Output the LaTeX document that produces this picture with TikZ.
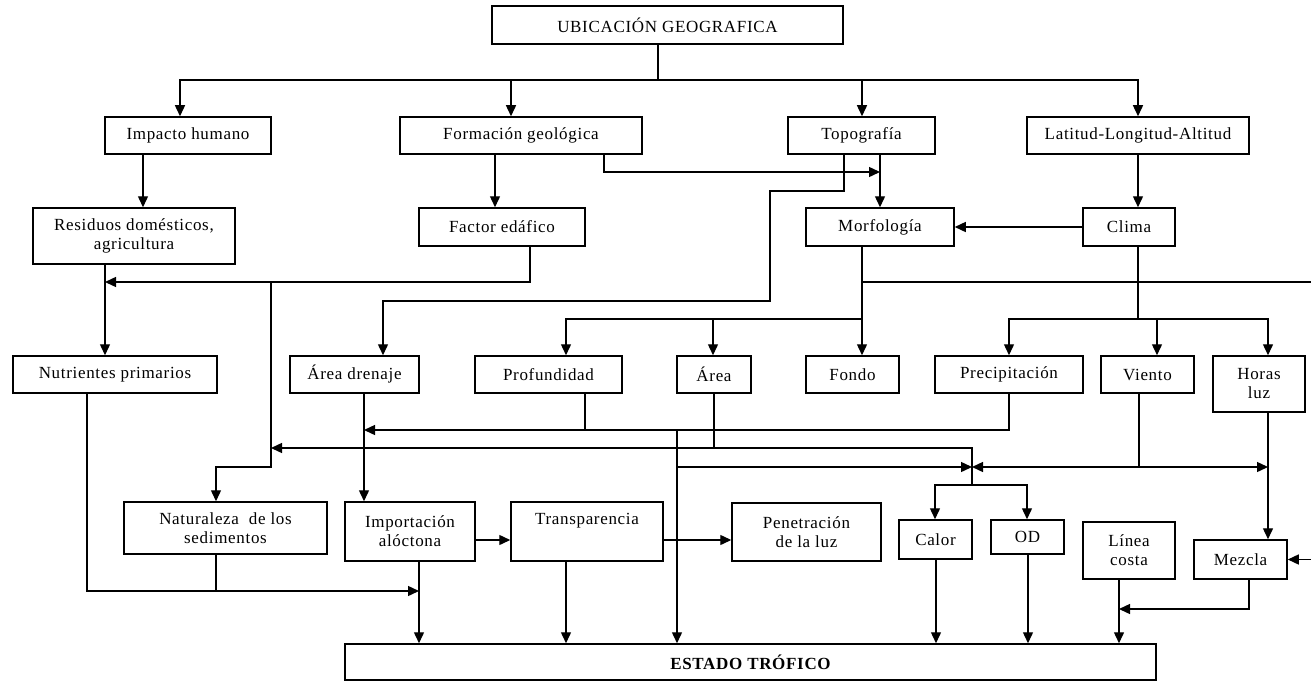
\documentclass[tikz,border=0pt]{standalone}
\usepackage{fontspec}
\setmainfont{Liberation Serif}[LetterSpace=4.0]
\usetikzlibrary{arrows.meta}

\begin{document}
\begin{tikzpicture}[x=1pt,y=-1pt,>={Triangle[length=11pt,width=10pt]}]
\useasboundingbox (0,0) rectangle (1311,682);
\begin{scope}[every node/.style={draw,line width=1.5pt,inner sep=0pt,align=center,
              font=\fontsize{17}{19}\selectfont}]
    \node[minimum width=351,minimum height=38] (ubic) at (667.5,25) {UBICACIÓN GEOGRAFICA};
    \node[minimum width=166,minimum height=37] (imp) at (188,135.5) {Impacto humano};
    \node[minimum width=242,minimum height=37] (form) at (521,135.5) {Formación geológica};
    \node[minimum width=147,minimum height=37] (topo) at (861.5,135.5) {Topografía};
    \node[minimum width=222,minimum height=37] (lat) at (1138,135.5) {Latitud-Longitud-Altitud};
    \node[minimum width=202,minimum height=56] (res) at (134,236) {Residuos domésticos,\\agricultura};
    \node[minimum width=166,minimum height=38] (fact) at (502,227) {Factor edáfico};
    \node[minimum width=148,minimum height=38] (morf) at (880,227) {Morfología};
    \node[minimum width=92,minimum height=38] (clima) at (1129,227) {Clima};
    \node[minimum width=204,minimum height=37] (nutr) at (115,374.5) {Nutrientes primarios};
    \node[minimum width=129,minimum height=37] (dren) at (354.5,374.5) {Área drenaje};
    \node[minimum width=147,minimum height=37] (prof) at (548.5,374.5) {Profundidad};
    \node[minimum width=74,minimum height=37] (area) at (714,374.5) {Área};
    \node[minimum width=93,minimum height=37] (fondo) at (852.5,374.5) {Fondo};
    \node[minimum width=148,minimum height=37] (prec) at (1009,374.5) {Precipitación};
    \node[minimum width=93,minimum height=37] (viento) at (1147.5,374.5) {Viento};
    \node[minimum width=92,minimum height=56] (horas) at (1259,384) {Horas\\luz};
    \node[minimum width=203,minimum height=52] (nat) at (225.5,528) {Naturaleza\ \ de los\\sedimentos};
    \node[minimum width=130,minimum height=59] (impo) at (410,531.5) {Importación\\alóctona};
    \node[minimum width=152,minimum height=59] (trans) at (587,531.5) {Transparencia\\\strut};
    \node[minimum width=149,minimum height=58] (pen) at (806.5,532) {Penetración\\de la luz};
    \node[minimum width=73,minimum height=39] (calor) at (935.5,539.5) {Calor};
    \node[minimum width=73,minimum height=34] (od) at (1027.5,537) {OD};
    \node[minimum width=92,minimum height=57] (linea) at (1129,550.5) {Línea\\costa};
    \node[minimum width=93,minimum height=39] (mezcla) at (1240.5,559.5) {Mezcla};
    \node[minimum width=811,minimum height=36] (estado) at (750.5,662) {\bfseries ESTADO TRÓFICO};
\end{scope}

\coordinate (hub) at (658,80);
\coordinate (jmorf) at (880,172);
\coordinate (redge) at (1311,282);
\coordinate (mezin) at (1311,559.5);

\begin{scope}[line width=1.4pt]
    % ubicacion
    \draw (ubic.south -| hub) -- (hub);
    \draw[->] (hub) -| (180,0 |- imp.north);
    \draw[->] (hub) -| (511,0 |- form.north);
    \draw[->] (hub) -| (862,0 |- topo.north);
    \draw[->] (hub) -| (1138,0 |- lat.north);
    % segunda fila
    \draw[->] (143,0 |- imp.south) -- (143,0 |- res.north);
    \draw[->] (495,0 |- form.south) -- (495,0 |- fact.north);
    \draw[->] (604,0 |- form.south) |- (jmorf);
    \draw[->] (880,0 |- topo.south) -- (880,0 |- morf.north);
    \draw[->] (844,0 |- topo.south) |- (770,191) |- (383,301) -- (383,0 |- dren.north);
    \draw[->] (1138,0 |- lat.south) -- (1138,0 |- clima.north);
    \draw[->] (clima.west) -- (morf.east);
    % morfologia
    \draw[->] (862,0 |- morf.south) -- (862,0 |- fondo.north);
    \draw[->] (862,319) -| (566,0 |- prof.north);
    \draw[->] (713,319) -- (713,0 |- area.north);
    \draw (862,282) -- (redge);
    \draw[->] (mezin) -- (mezcla.east);
    % clima
    \draw (1138,0 |- clima.south) -- (1138,319);
    \draw[->] (1138,319) -| (1009,0 |- prec.north);
    \draw[->] (1138,319) -| (1157,0 |- viento.north);
    \draw[->] (1138,319) -| (1268,0 |- horas.north);
    % factor edafico
    \draw[->] (105,0 |- res.south) -- (105,0 |- nutr.north);
    \draw[->] (530,0 |- fact.south) |- (105,282);
    \draw[->] (271,282) |- (216,467) -- (216,0 |- nat.north);
    % area
    \draw[->] (714,0 |- area.south) |- (271,448);
    \draw (714,448) -| (972,485);
    \draw[->] (972,485) -| (935,0 |- calor.north);
    \draw[->] (972,485) -| (1027,0 |- od.north);
    % precipitacion, profundidad
    \draw[->] (1009,0 |- prec.south) |- (364,430);
    \draw[->] (585,0 |- prof.south) |- (677,430) -- (677,0 |- estado.north);
    \draw[->] (677,467) -- (972,467);
    % viento, horas luz
    \draw (1139,0 |- viento.south) -- (1139,467);
    \draw[->] (1139,467) -- (972,467);
    \draw[->] (1139,467) -- (1268,467);
    \draw[->] (1268,0 |- horas.south) -- (1268,0 |- mezcla.north);
    % abajo
    \draw[->] (364,0 |- dren.south) -- (364,0 |- impo.north);
    \draw[->] (87,0 |- nutr.south) |- (419,591);
    \draw (216,0 |- nat.south) -- (216,591);
    \draw[->] (419,0 |- impo.south) -- (419,0 |- estado.north);
    \draw[->] (impo.east |- 0,540) -- (trans.west |- 0,540);
    \draw[->] (trans.east |- 0,540) -- (pen.west |- 0,540);
    \draw[->] (566,0 |- trans.south) -- (566,0 |- estado.north);
    \draw[->] (936,0 |- calor.south) -- (936,0 |- estado.north);
    \draw[->] (1028,0 |- od.south) -- (1028,0 |- estado.north);
    \draw[->] (1119,0 |- linea.south) -- (1119,0 |- estado.north);
    \draw[->] (1249,0 |- mezcla.south) |- (1119,609);
\end{scope}
\end{tikzpicture}
\end{document}
